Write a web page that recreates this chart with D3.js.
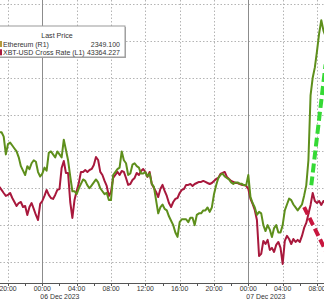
<!DOCTYPE html>
<html><head><meta charset="utf-8">
<script src="https://cdn.jsdelivr.net/npm/d3@7"></script>
<style>
html,body{margin:0;padding:0;background:#fff;overflow:hidden}
svg{display:block}
text{font-family:"Liberation Sans",Arial,sans-serif}
</style></head>
<body>
<svg id="chart" width="324" height="301"></svg>
<script>
// ---- data ----
const seriesStart = "2023-12-05T19:00";   // first sample time
const stepMinutes = 15;                   // sampling interval
const ethPrices = [
2288,2288,2285,2273,2280,2281,2279,2277,2275,2271,
2265,2262,2259,2265,2263,2267,2269,2268,2261,2258,
2260,2264,2262,2274,2275,2273,2271,2275,2273,2271,
2283,2276,2269,2258,2248,2248,2246,2250,2253,2256,
2255,2252,2250,2252,2254,2256,2254,2250,2248,2246,
2247,2242,2242,2259,2261,2263,2264,2275,2269,2267,
2259,2260,2266,2267,2265,2264,2260,2260,2261,2258,
2260,2253,2251,2242,2233,2237,2239,2236,2235,2231,
2228,2225,2220,2217,2227,2229,2229,2229,2227,2230,
2230,2225,2232,2233,2233,2235,2235,2237,2234,2237,
2246,2252,2257,2259,2260,2258,2257,2256,2254,2253,
2254,2254,2253,2253,2252,2252,2259,2244,2240,2237,
2232,2234,2233,2225,2221,2225,2222,2217,2223,2225,
2220,2220,2225,2235,2239,2243,2242,2239,2237,2235,
2237,2239,2245,2252,2269,2313,2325,2332,2343,2355,
2364,2357,2353];
const xbtPrices = [
43500,43480,43459,43439,43446,43459,43425,43398,43371,43391,
43398,43364,43371,43310,43364,43391,43351,43310,43276,43385,
43405,43439,43480,43446,43425,43419,43446,43480,43486,43629,
43676,43595,43595,43398,43290,43412,43473,43527,43602,43602,
43615,43602,43615,43622,43649,43703,43683,43602,43581,43541,
43507,43439,43466,43561,43581,43602,43581,43608,43602,43561,
43514,43520,43547,43561,43595,43581,43608,43622,43602,43568,
43602,43520,43493,43466,43432,43486,43514,43473,43439,43391,
43364,43398,43419,43425,43459,43480,43486,43514,43514,43520,
43507,43520,43527,43534,43534,43541,43534,43527,43520,43527,
43541,43554,43561,43588,43595,43602,43568,43554,43541,43534,
43527,43527,43520,43514,43514,43507,43486,43419,43385,43344,
43276,43032,43046,43134,43113,43141,43073,43087,43059,43107,
43127,43087,42978,43134,43168,43147,43113,43147,43127,43141,
43127,43168,43222,43256,43317,43378,43459,43405,43391,43405,
43378,43405,43391];
const ethTrendTimes = ["2023-12-07T07:20","2023-12-07T09:00"];
const ethTrendValues = [2252, 2334];
const xbtTrendTimes = ["2023-12-07T06:30","2023-12-07T09:00"];
const xbtTrendValues = [43363, 43070];
const ethGridValues = [2200,2225,2250,2275,2300,2325,2350,2375];
const tickTimes = ["2023-12-05T20:00","2023-12-06T00:00","2023-12-06T04:00","2023-12-06T08:00","2023-12-06T12:00","2023-12-06T16:00","2023-12-06T20:00","2023-12-07T00:00","2023-12-07T04:00","2023-12-07T08:00"];
const tickLabels = ["20:00","00:00","04:00","08:00","12:00","16:00","20:00","00:00","04:00","08:00"];
const dayTimes = ["2023-12-06T00:00","2023-12-07T00:00"];
const dayLabels = ["06 Dec 2023","07 Dec 2023"];
const legendTitle = "Last Price";
const legendNames = ["Ethereum (R1)","XBT-USD Cross Rate (L1)"];
const legendValues = ["2349.100","43364.227"];

// ---- setup ----
const parse = d3.timeParse("%Y-%m-%dT%H:%M");
const W = 324, H = 301, axisY = 283;
const svg = d3.select("#chart");
const x = d3.scaleTime()
  .domain([parse("2023-12-05T20:00"), parse("2023-12-07T08:00")])
  .range([8, 317]);
const yEth = d3.scaleLinear().domain([2200, 2375]).range([262, 4]);
const yXbt = d3.scaleLinear().domain([42991, 44741]).range([262, 4]);
const t0 = parse(seriesStart);
const timeAt = i => d3.timeMinute.offset(t0, i * stepMinutes);

const GREEN = "#5e8f1c", RED = "#a8183c";

svg.append("defs").append("clipPath").attr("id","plot")
  .append("rect").attr("x",0).attr("y",0).attr("width",W).attr("height",axisY);

// grid
const grid = svg.append("g");
grid.selectAll(".hg").data(ethGridValues).join("line")
  .attr("x1",0).attr("x2",W)
  .attr("y1",d=>Math.round(yEth(d))+0.5).attr("y2",d=>Math.round(yEth(d))+0.5)
  .attr("stroke","#b4b4b4").attr("stroke-width",1).attr("stroke-dasharray","1.5,2");
const minorTicks = d3.timeHour.every(2).range(x.domain()[0], d3.timeHour.offset(x.domain()[1], 1));
const dayStamps = dayTimes.map(s => +parse(s));
grid.selectAll(".vg").data(tickTimes.map(parse).filter(d => !dayStamps.includes(+d))).join("line")
  .attr("x1",d=>Math.round(x(d))+0.5).attr("x2",d=>Math.round(x(d))+0.5)
  .attr("y1",0).attr("y2",axisY)
  .attr("stroke","#b4b4b4").attr("stroke-width",1).attr("stroke-dasharray","1.5,2");
grid.selectAll(".dg").data(dayTimes.map(parse)).join("line")
  .attr("x1",d=>Math.round(x(d))+0.5).attr("x2",d=>Math.round(x(d))+0.5)
  .attr("y1",0).attr("y2",axisY+3)
  .attr("stroke","#8c8c8c").attr("stroke-width",1);

// lines
const plot = svg.append("g").attr("clip-path","url(#plot)");
const lineXbt = d3.line().x((d,i)=>x(timeAt(i))).y(d=>yXbt(d));
const lineEth = d3.line().x((d,i)=>x(timeAt(i))).y(d=>yEth(d));
plot.append("path").datum(xbtPrices).attr("d",lineXbt)
  .attr("fill","none").attr("stroke",RED).attr("stroke-width",2).attr("stroke-linejoin","round");
plot.append("path").datum(ethPrices).attr("d",lineEth)
  .attr("fill","none").attr("stroke",GREEN).attr("stroke-width",2).attr("stroke-linejoin","round");

// trend lines
const trendLine = (times, vals, y) => d3.line().x(d=>x(parse(d[0]))).y(d=>y(d[1]))(d3.zip(times, vals));
plot.append("path").attr("d", trendLine(ethTrendTimes, ethTrendValues, yEth))
  .attr("fill","none").attr("stroke","#35d935").attr("stroke-width",4).attr("stroke-dasharray","9,4");
plot.append("path").attr("d", trendLine(xbtTrendTimes, xbtTrendValues, yXbt))
  .attr("fill","none").attr("stroke","#c8163e").attr("stroke-width",4).attr("stroke-dasharray","8,4");

// axis
const ax = svg.append("g");
ax.append("line").attr("x1",0).attr("x2",W).attr("y1",axisY+0.5).attr("y2",axisY+0.5)
  .attr("stroke","#555").attr("stroke-width",1);
ax.selectAll(".mt").data(minorTicks).join("line")
  .attr("x1",d=>Math.round(x(d))+0.5).attr("x2",d=>Math.round(x(d))+0.5)
  .attr("y1",axisY).attr("y2",axisY+3).attr("stroke","#555");
ax.selectAll(".tl").data(d3.zip(tickTimes, tickLabels)).join("text")
  .attr("x",d=>x(parse(d[0]))).attr("y",290.5)
  .attr("text-anchor","middle").attr("font-size",6.9).attr("fill","#333")
  .text(d=>d[1]);
ax.selectAll(".dl").data(d3.zip(dayTimes, dayLabels)).join("text")
  .attr("x",d=>x(parse(d[0]))-2).attr("y",298.5)
  .attr("text-anchor","start").attr("font-size",6.9).attr("fill","#333")
  .text(d=>d[1]);

// legend
const lg = svg.append("g");
lg.append("rect").attr("x",-2).attr("y",27).attr("width",128).attr("height",31).attr("fill","#a8a8a8");
lg.append("rect").attr("x",-3).attr("y",26).attr("width",128).attr("height",31)
  .attr("fill","#fff").attr("stroke","#9a9a9a").attr("stroke-width",1);
lg.append("text").attr("x",57).attr("y",38).attr("text-anchor","middle")
  .attr("font-size",7.1).attr("fill","#333").text(legendTitle);
const colors = [GREEN, RED];
legendNames.forEach((n,i)=>{
  const yy = 46.5 + i*8.3;
  lg.append("rect").attr("x",0).attr("y",yy-5.5).attr("width",2).attr("height",6).attr("fill", i===0 ? "#b39a3c" : RED);
  lg.append("text").attr("x",3).attr("y",yy).attr("font-size",7).attr("fill","#333").text(n);
  lg.append("text").attr("x",120).attr("y",yy).attr("text-anchor","end").attr("font-size",7).attr("fill","#333")
    .text(legendValues[i]);
});
</script>
</body></html>
